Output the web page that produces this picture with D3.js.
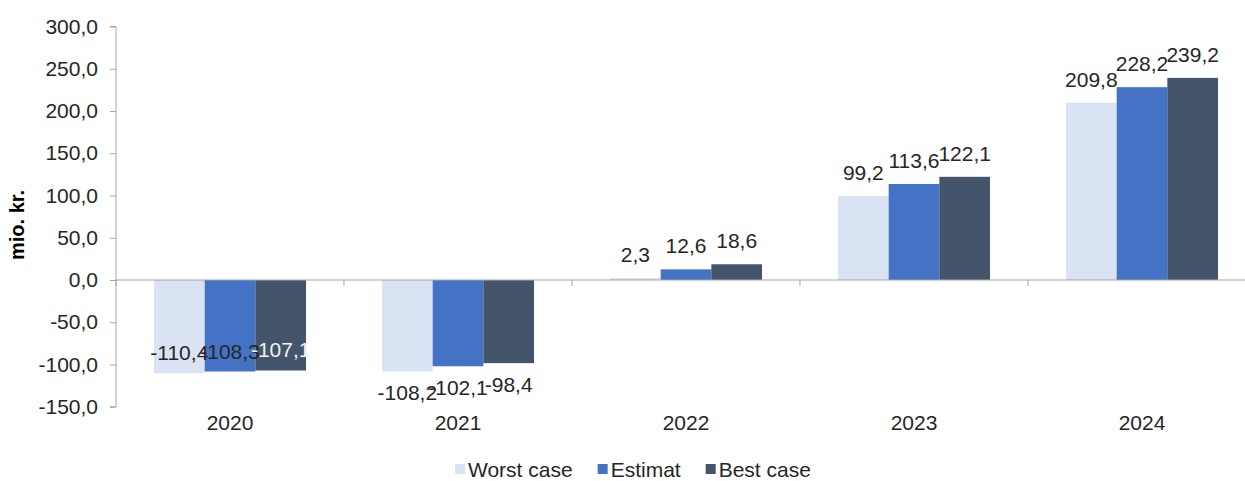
<!DOCTYPE html>
<html>
<head>
<meta charset="utf-8">
<script src="https://cdn.jsdelivr.net/npm/d3@7"></script>
<style>
  html, body { margin: 0; padding: 0; background: #fff; }
  svg { display: block; font-family: "Liberation Sans", Arial, sans-serif; }
</style>
</head>
<body>
<svg id="chart" width="1245" height="481"></svg>
<script>
// Scenario results per year, in mio. kr.
const years = ["2020", "2021", "2022", "2023", "2024"];
const seriesNames = ["Worst case", "Estimat", "Best case"];
const worstCase = [-110.4, -108.2, 2.3, 99.2, 209.8];
const estimat = [-108.3, -102.1, 12.6, 113.6, 228.2];
const bestCase = [-107.1, -98.4, 18.6, 122.1, 239.2];
const yTicks = [-150, -100, -50, 0, 50, 100, 150, 200, 250, 300];

const seriesValues = [worstCase, estimat, bestCase];
const colors = ["#dae3f3", "#4472c4", "#44546a"];
const darkSeries = new Set(["Best case"]);
// Years whose negative-bar labels sit inside the bar end
const insideLabelYears = new Set(["2020"]);

const svg = d3.select("#chart");
const axisColor = "#a6a6a6";
const textColor = "#262626";
const fontSize = 21;

// The plot area runs a little past the right edge of the canvas
const plot = { left: 116, right: 1256, top: 26.5, bottom: 406.75 };

const y = d3.scaleLinear().domain([-150, 300]).range([plot.bottom, plot.top]);
const x0 = d3.scaleBand().domain(years).range([plot.left, plot.right])
  .paddingInner(0.3333).paddingOuter(0.1667);
const x1 = d3.scaleBand().domain(seriesNames).range([0, x0.bandwidth()]);
const color = d3.scaleOrdinal().domain(seriesNames).range(colors);

const fmt = v => d3.format(".1f")(v).replace(".", ",").replace("−", "-");

const rows = years.map((yr, i) => ({
  year: yr,
  values: seriesNames.map((s, k) => ({ year: yr, series: s, value: seriesValues[k][i] }))
}));

// Bars
const groups = svg.append("g").selectAll("g").data(rows).join("g")
  .attr("transform", d => `translate(${x0(d.year)},0)`);

groups.selectAll("rect").data(d => d.values).join("rect")
  .attr("x", d => x1(d.series))
  .attr("width", x1.bandwidth())
  .attr("y", d => y(Math.max(0, d.value)))
  .attr("height", d => Math.abs(y(d.value) - y(0)))
  .attr("fill", d => color(d.series));

// Y axis
const yAxis = d3.axisLeft(y).tickValues(yTicks).tickSize(6).tickPadding(12).tickFormat(fmt);
const yg = svg.append("g").attr("transform", `translate(${plot.left},0)`).call(yAxis);
yg.select(".domain").attr("stroke", axisColor).attr("d", `M-6,${plot.top}H0V${plot.bottom}H-6`);
yg.selectAll(".tick line").attr("stroke", axisColor);
yg.selectAll(".tick text").attr("fill", textColor).attr("font-size", fontSize)
  .attr("font-family", "Liberation Sans, Arial, sans-serif");

// X axis along zero, with ticks between categories
const xg = svg.append("g");
xg.append("line")
  .attr("x1", plot.left).attr("x2", plot.right)
  .attr("y1", y(0)).attr("y2", y(0))
  .attr("stroke", axisColor);
const step = x0.step();
xg.selectAll("line.sep").data(d3.range(years.length + 1)).join("line")
  .attr("class", "sep")
  .attr("x1", i => plot.left + i * step).attr("x2", i => plot.left + i * step)
  .attr("y1", y(0)).attr("y2", y(0) + 6)
  .attr("stroke", axisColor);
xg.selectAll("text").data(years).join("text")
  .attr("x", d => x0(d) + x0.bandwidth() / 2)
  .attr("y", 429.5)
  .attr("text-anchor", "middle")
  .attr("font-size", fontSize)
  .attr("fill", textColor)
  .text(d => d);

// Value labels
const labelLayer = svg.append("g");
rows.forEach(r => {
  r.values.forEach(d => {
    const cx = x0(d.year) + x1(d.series) + x1.bandwidth() / 2;
    let ly, fill = textColor;
    if (d.value >= 0) {
      ly = y(d.value) - 16;
    } else if (insideLabelYears.has(d.year)) {
      ly = y(d.value) - 13;
      if (darkSeries.has(d.series)) fill = "#f2f2f2";
    } else {
      ly = y(d.value) + 29;
    }
    labelLayer.append("text")
      .attr("x", cx).attr("y", ly)
      .attr("text-anchor", "middle")
      .attr("font-size", fontSize)
      .attr("fill", fill)
      .text(fmt(d.value));
  });
});

// Y axis title
svg.append("text")
  .attr("transform", `translate(24,${225}) rotate(-90)`)
  .attr("text-anchor", "middle")
  .attr("font-size", 20)
  .attr("font-weight", "bold")
  .attr("fill", "#000")
  .text("mio. kr.");

// Legend
const legend = svg.append("g");
let lx = 455;
seriesNames.forEach(s => {
  legend.append("rect")
    .attr("x", lx).attr("y", 464)
    .attr("width", 10).attr("height", 10)
    .attr("fill", color(s));
  const t = legend.append("text")
    .attr("x", lx + 13).attr("y", 476.5)
    .attr("font-size", fontSize)
    .attr("fill", textColor)
    .text(s);
  lx += 13 + t.node().getComputedTextLength() + 25;
});
</script>
</body>
</html>
